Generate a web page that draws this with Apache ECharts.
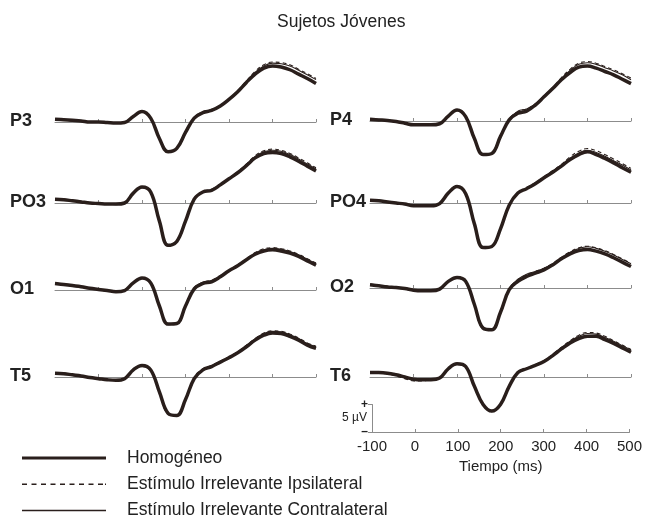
<!DOCTYPE html>
<html>
<head>
<meta charset="utf-8">
<script src="https://cdn.jsdelivr.net/npm/echarts@6/dist/echarts.min.js"></script>
<style>
  html, body { margin: 0; padding: 0; background: #ffffff; }
  #chart { width: 645px; height: 516px; }
</style>
</head>
<body>
<div id="chart"></div>
<script>
// Sample times (ms) of the grand-average ERP waveforms
const tiempos = [-100,-80,-60,-40,-20,0,20,40,60,80,100,120,140,160,180,200,220,240,260,280,300,320,340,360,380,400,420,440,460,480,500];

const condiciones = ['Homogéneo', 'Estímulo Irrelevante Ipsilateral', 'Estímulo Irrelevante Contralateral'];

// Amplitudes in µV: H = Homogéneo, I = Ipsilateral, C = Contralateral
const P3_H  = [0.5,0.4,0.3,0.2,0.0,0.0,-0.1,-0.2,-0.1,1.0,1.9,0.7,-3.0,-5.4,-4.8,-1.9,0.7,1.7,2.1,2.9,4.1,5.5,7.2,8.7,9.8,10.2,10.0,9.5,8.7,7.9,7.0];
const P3_I  = [0.6,0.5,0.3,0.1,0.0,-0.1,-0.1,-0.2,0.0,1.1,1.9,0.6,-3.1,-5.5,-4.7,-1.8,0.8,1.9,2.3,3.0,4.2,5.7,7.5,9.2,10.4,10.9,10.8,10.4,9.6,8.8,7.9];
const P3_C  = [0.4,0.4,0.2,0.2,0.1,0.0,-0.2,-0.2,-0.1,1.0,1.8,0.6,-3.0,-5.4,-4.8,-1.8,0.8,1.8,2.2,3.0,4.2,5.6,7.3,9.0,10.2,10.7,10.6,10.2,9.4,8.6,7.7];

const P4_H  = [0.3,0.2,0.1,-0.1,-0.4,-0.7,-0.7,-0.7,-0.5,0.9,2.0,0.8,-3.2,-6.1,-5.9,-2.8,0.2,1.4,1.8,2.9,4.4,5.9,7.5,8.8,9.8,10.0,9.6,9.0,8.4,7.6,6.8];
const P4_I  = [0.4,0.3,0.1,-0.2,-0.5,-0.7,-0.8,-0.7,-0.4,1.0,2.0,0.7,-3.3,-6.2,-5.8,-2.7,0.4,1.7,2.2,3.1,4.6,6.1,7.9,9.4,10.5,10.8,10.5,9.9,9.3,8.6,7.8];
const P4_C  = [0.3,0.2,0.0,-0.2,-0.4,-0.6,-0.7,-0.6,-0.4,0.9,1.9,0.7,-3.2,-6.2,-5.9,-2.7,0.3,1.8,2.2,3.1,4.5,6.0,7.7,9.2,10.3,10.6,10.3,9.7,9.1,8.4,7.5];

const PO3_H = [0.7,0.6,0.4,0.2,0.0,-0.1,-0.2,-0.2,0.0,1.8,2.9,2.0,-3.3,-7.7,-7.0,-3.3,0.7,2.0,2.3,3.3,4.4,5.5,6.8,8.2,9.0,9.2,9.0,8.4,7.6,6.7,5.8];
const PO3_I = [0.8,0.7,0.4,0.1,-0.1,-0.1,-0.1,-0.2,0.1,1.9,2.9,1.9,-3.4,-7.8,-6.9,-3.1,0.8,2.1,2.5,3.4,4.5,5.7,7.1,8.6,9.5,9.8,9.6,9.0,8.2,7.3,6.4];
const PO3_C = [0.6,0.6,0.5,0.3,0.1,0.0,-0.2,-0.3,0.0,1.8,2.8,1.9,-3.3,-7.7,-7.0,-3.2,0.8,2.1,2.4,3.4,4.5,5.6,7.0,8.4,9.3,9.6,9.4,8.8,8.0,7.1,6.2];

const PO4_H = [0.5,0.4,0.2,0.0,-0.2,-0.5,-0.5,-0.5,-0.1,1.8,3.0,1.7,-3.8,-8.1,-7.9,-4.7,-0.4,1.8,2.6,3.5,4.6,5.6,6.7,7.9,8.8,9.3,8.8,8.1,7.3,6.4,5.6];
const PO4_I = [0.6,0.5,0.1,-0.1,-0.2,-0.4,-0.6,-0.4,0.0,1.9,3.1,1.6,-3.9,-8.3,-7.8,-4.6,-0.2,1.9,2.8,3.7,4.8,5.9,7.0,8.4,9.4,9.9,9.5,8.8,8.0,7.2,6.3];
const PO4_C = [0.4,0.5,0.3,0.0,-0.1,-0.4,-0.5,-0.5,-0.1,1.8,3.0,1.6,-3.8,-8.2,-7.9,-4.6,-0.3,1.9,2.7,3.6,4.7,5.8,6.9,8.1,9.1,9.6,9.2,8.5,7.7,6.9,6.0];

const O1_H  = [1.2,1.0,0.8,0.6,0.3,0.1,-0.1,-0.3,-0.1,1.3,2.2,1.3,-2.9,-6.2,-6.1,-2.9,0.2,1.2,1.5,2.4,3.5,4.4,5.5,6.5,7.1,7.3,7.1,6.7,6.1,5.3,4.5];
const O1_I  = [1.3,1.0,0.7,0.5,0.3,0.0,-0.2,-0.3,0.0,1.4,2.2,1.2,-3.0,-6.3,-6.0,-2.8,0.4,1.4,1.8,2.6,3.6,4.6,5.7,6.8,7.5,7.7,7.5,7.1,6.5,5.7,4.9];
const O1_C  = [1.1,1.1,0.9,0.6,0.4,0.1,-0.1,-0.2,0.0,1.3,2.1,1.2,-2.9,-6.2,-6.1,-2.8,0.3,1.4,1.7,2.5,3.6,4.5,5.6,6.7,7.3,7.6,7.4,7.0,6.4,5.6,4.8];

const O2_H  = [0.6,0.4,0.2,0.1,-0.1,-0.4,-0.5,-0.5,-0.2,1.2,1.9,1.2,-3.0,-7.3,-7.6,-4.4,-0.3,1.2,2.1,2.7,3.3,4.2,5.3,6.2,6.8,7.0,6.7,6.2,5.5,4.7,3.9];
const O2_I  = [0.7,0.5,0.3,0.0,-0.2,-0.4,-0.6,-0.5,-0.1,1.3,1.9,1.1,-3.1,-7.4,-7.5,-4.3,-0.1,1.5,2.4,3.0,3.6,4.5,5.6,6.6,7.3,7.6,7.3,6.8,6.1,5.3,4.5];
const O2_C  = [0.5,0.5,0.3,0.1,0.0,-0.3,-0.5,-0.4,-0.2,1.2,1.8,1.1,-3.0,-7.3,-7.6,-4.3,-0.1,1.6,2.5,3.0,3.6,4.4,5.5,6.5,7.2,7.5,7.2,6.7,6.0,5.2,4.4];

const T5_H  = [0.7,0.6,0.4,0.2,-0.1,-0.3,-0.5,-0.6,-0.3,1.3,2.1,1.3,-2.7,-6.6,-7.0,-4.1,-0.3,1.3,1.9,2.7,3.5,4.4,5.5,6.7,7.6,8.0,7.9,7.4,6.7,5.8,5.2];
const T5_I  = [0.8,0.7,0.5,0.2,0.0,-0.2,-0.4,-0.6,-0.2,1.2,1.9,1.1,-2.8,-6.7,-6.9,-4.0,-0.1,1.5,2.1,2.9,3.7,4.6,5.8,7.0,8.0,8.4,8.3,7.8,7.1,6.2,5.6];
const T5_C  = [0.6,0.6,0.3,0.1,-0.1,-0.3,-0.5,-0.5,-0.3,1.2,2.0,1.2,-2.7,-6.6,-7.0,-4.0,-0.2,1.4,2.0,2.8,3.6,4.5,5.7,6.9,7.9,8.3,8.2,7.7,7.0,6.1,5.5];

const T6_H  = [0.8,0.8,0.7,0.4,0.0,-0.4,-0.5,-0.5,-0.2,1.5,2.4,1.9,-1.7,-5.0,-6.2,-5.0,-1.7,0.8,1.5,2.1,2.8,3.9,5.1,6.2,7.0,7.4,7.4,6.8,6.1,5.3,4.5];
const T6_I  = [0.9,0.8,0.6,0.2,-0.3,-0.7,-0.7,-0.5,-0.1,1.5,2.3,1.8,-1.8,-5.1,-6.2,-4.9,-1.6,0.9,1.6,2.3,3.0,4.1,5.4,6.6,7.6,8.1,8.0,7.4,6.6,5.8,5.0];
const T6_C  = [0.7,0.7,0.6,0.3,-0.1,-0.5,-0.6,-0.4,-0.2,1.4,2.3,1.8,-1.7,-5.1,-6.3,-4.9,-1.6,0.9,1.6,2.2,2.9,4.0,5.3,6.5,7.4,7.9,7.8,7.2,6.5,5.7,4.9];

const ejeTiempoTicks = [-100, 0, 100, 200, 300, 400, 500];

// Panel layout: column (0 left, 1 right) and pixel row of each zero line
const paneles = [
  { nombre: 'P3',  col: 0, cero: 122, ondas: [P3_H, P3_I, P3_C] },
  { nombre: 'P4',  col: 1, cero: 121, ondas: [P4_H, P4_I, P4_C] },
  { nombre: 'PO3', col: 0, cero: 203, ondas: [PO3_H, PO3_I, PO3_C] },
  { nombre: 'PO4', col: 1, cero: 203, ondas: [PO4_H, PO4_I, PO4_C] },
  { nombre: 'O1',  col: 0, cero: 290, ondas: [O1_H, O1_I, O1_C] },
  { nombre: 'O2',  col: 1, cero: 288, ondas: [O2_H, O2_I, O2_C] },
  { nombre: 'T5',  col: 0, cero: 377, ondas: [T5_H, T5_I, T5_C] },
  { nombre: 'T6',  col: 1, cero: 377, ondas: [T6_H, T6_I, T6_C] }
];

const PX_UV = 5.5;          // pixels per microvolt
const Y_MIN = -10, Y_MAX = 14;
const colX = [55, 370];
const anchoPanel = 261;
const tinta = '#2a1f1c';
const gris = '#8c8c8c';
const texto = '#222222';
const fuente = '"Liberation Sans", Arial, Helvetica, sans-serif';

const estilos = [
  { width: 3.5, type: 'solid' },
  { width: 1.1, type: [4, 3] },
  { width: 1.1, type: 'solid' }
];

// Legend keys drawn as filled paths so each keeps its own stroke look
let trazos = '';
for (let d = 0; d < 9; d++) trazos += 'M' + (d * 9.5) + ',0h5v1.4h-' + 5 + 'z';
trazos += 'M83,0h1v1.4h-1z';
const iconos = [
  'path://M0,0h84v3.2h-84z',
  'path://' + trazos,
  'path://M0,0h84v1.5h-84z'
];

const grid = [], xAxis = [], yAxis = [], series = [], title = [];

title.push({
  text: 'Sujetos Jóvenes', left: 277, top: 13, padding: 0,
  textStyle: { fontFamily: fuente, fontSize: 17.5, fontWeight: 'normal', color: texto }
});

paneles.forEach((p, i) => {
  grid.push({
    left: colX[p.col], width: anchoPanel,
    top: p.cero - Y_MAX * PX_UV, height: (Y_MAX - Y_MIN) * PX_UV
  });
  xAxis.push({
    type: 'value', gridIndex: i, min: -100, max: 500, interval: 100,
    axisLine: { onZero: true, lineStyle: { color: gris, width: 1 } },
    axisTick: { show: true, inside: true, length: 3, customValues: [0, 100, 200, 300, 400, 500], lineStyle: { color: gris } },
    axisLabel: { show: false },
    splitLine: { show: false }
  });
  yAxis.push({
    type: 'value', gridIndex: i, min: Y_MIN, max: Y_MAX, show: false,
    splitLine: { show: false }
  });
  p.ondas.forEach((vals, k) => {
    series.push({
      type: 'line', name: condiciones[k], xAxisIndex: i, yAxisIndex: i,
      data: tiempos.map((t, j) => [t, vals[j]]),
      smooth: 0.4, symbol: 'none', silent: true,
      lineStyle: { color: tinta, width: estilos[k].width, type: estilos[k].type },
      itemStyle: { color: tinta },
      z: 2 + k
    });
  });
  title.push({
    text: p.nombre, padding: 0,
    left: p.col === 0 ? 10 : 330, top: p.cero - 10,
    textStyle: { fontFamily: fuente, fontSize: 18, fontWeight: 'bold', color: texto }
  });
});

// Shared time axis with the 5 µV calibration bar
const ib = paneles.length;
grid.push({ left: 372, width: 260, top: 432 - 5 * PX_UV, height: 5 * PX_UV });
xAxis.push({
  type: 'value', gridIndex: ib, min: -100, max: 500, interval: 100,
  axisLine: { onZero: false, lineStyle: { color: gris, width: 1 } },
  axisTick: { show: true, inside: true, length: 3, customValues: [0, 100, 200, 300, 400, 500], lineStyle: { color: gris } },
  axisLabel: { show: true, customValues: ejeTiempoTicks, margin: 7, fontFamily: fuente, fontSize: 15, color: texto },
  splitLine: { show: false },
  name: 'Tiempo (ms)', nameLocation: 'middle', nameGap: 27,
  nameTextStyle: { fontFamily: fuente, fontSize: 15, color: texto }
});
yAxis.push({
  type: 'value', gridIndex: ib, min: 0, max: 5, interval: 5,
  axisLine: { show: true, onZero: false, lineStyle: { color: gris, width: 1 } },
  axisTick: { show: true, length: 4, lineStyle: { color: gris } },
  axisLabel: {
    show: true, margin: 4, fontFamily: fuente, fontSize: 12, fontWeight: 'bold', color: texto,
    showMinLabel: true, showMaxLabel: true, hideOverlap: false,
    formatter: v => (v === 5 ? '+' : (v === 0 ? '–' : ''))
  },
  splitLine: { show: false }
});

const chart = echarts.init(document.getElementById('chart'), null, { renderer: 'canvas' });
chart.setOption({
  backgroundColor: '#ffffff',
  animation: false,
  title: title,
  graphic: [{
    type: 'text', left: 342, top: 412,
    style: { text: '5 µV', fontFamily: fuente, fontSize: 12, fill: texto }
  }],
  legend: {
    orient: 'vertical', left: 22, top: 449, width: 420, height: 90, padding: 0,
    itemWidth: 84, itemHeight: 16, itemGap: 8.2,
    selectedMode: false,
    data: condiciones.map((c, k) => ({ name: c, icon: iconos[k], itemStyle: { color: tinta } })),
    textStyle: { fontFamily: fuente, fontSize: 17.5, lineHeight: 16, color: texto, padding: [0, 0, 0, 16] }
  },
  grid: grid,
  xAxis: xAxis,
  yAxis: yAxis,
  series: series
});
</script>
</body>
</html>
